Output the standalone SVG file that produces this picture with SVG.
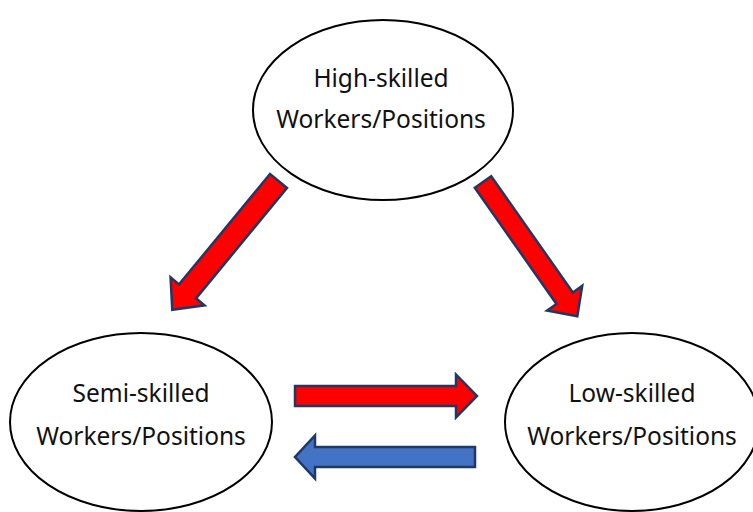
<svg xmlns="http://www.w3.org/2000/svg" width="753" height="512" viewBox="0 0 753 512">
  <style>
    .node ellipse { fill: #ffffff; stroke: #000000; stroke-width: 2; }
    .node text { font-family: "Noto Sans", "Liberation Sans", sans-serif; font-size: 24.5px; fill: #111111; text-anchor: middle; }
    .arrow { stroke: #1f3864; stroke-width: 2.5; stroke-linejoin: miter; }
    .red { fill: #ff0000; }
    .blue { fill: #4472c4; }
  </style>

  <g id="connectors">
    <!-- High-skilled to Semi-skilled -->
    <g transform="translate(278.5,181) rotate(129.5)">
      <path class="arrow red" d="M0,-11 L143,-11 L143,-22 L167,0 L143,22 L143,11 L0,11 Z"/>
    </g>
    <!-- High-skilled to Low-skilled -->
    <g transform="translate(483,182) rotate(54.9)">
      <path class="arrow red" d="M0,-10 L142,-10 L142,-21.5 L164,0 L142,21.5 L142,10 L0,10 Z"/>
    </g>
    <!-- Semi-skilled to Low-skilled -->
    <path class="arrow red" d="M295,386 L456,386 L456,374.5 L477,396 L456,417.5 L456,406 L295,406 Z"/>
    <!-- Low-skilled to Semi-skilled -->
    <path class="arrow blue" d="M475,447 L315,447 L315,435.5 L295,457 L315,478.5 L315,467 L475,467 Z"/>
  </g>

  <g id="node-high" class="node">
    <ellipse cx="383" cy="110" rx="130" ry="90"/>
    <text x="381" y="87">High-skilled</text>
    <text x="381" y="128">Workers/Positions</text>
  </g>

  <g id="node-semi" class="node">
    <ellipse cx="141" cy="422" rx="131" ry="89"/>
    <text x="141" y="402">Semi-skilled</text>
    <text x="141" y="445">Workers/Positions</text>
  </g>

  <g id="node-low" class="node">
    <ellipse cx="632" cy="422" rx="127" ry="89"/>
    <text x="632" y="402">Low-skilled</text>
    <text x="632" y="445">Workers/Positions</text>
  </g>
</svg>
